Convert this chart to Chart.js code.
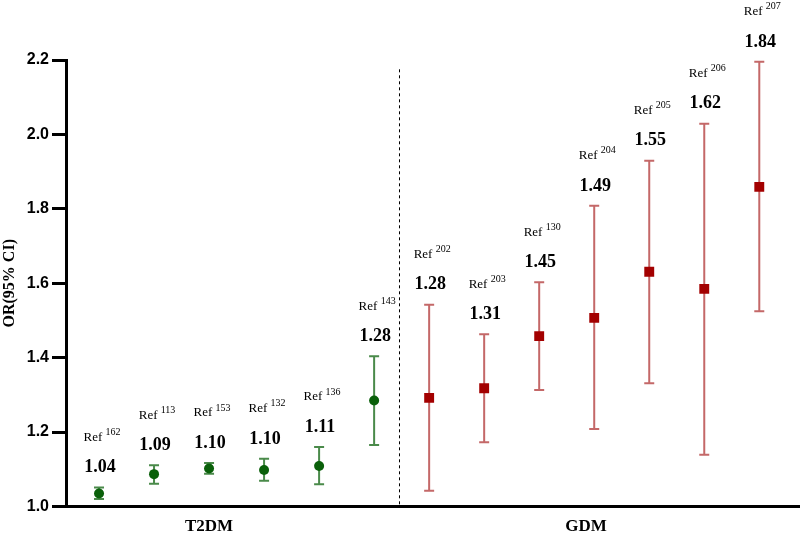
<!DOCTYPE html>
<html>
<head>
<meta charset="utf-8">
<script src="https://cdn.jsdelivr.net/npm/chart.js@4"></script>
<style>
  html, body { margin: 0; padding: 0; background: #fff; overflow: hidden; }
  canvas { display: block; }
</style>
</head>
<body>
<canvas id="chart" width="800" height="536"></canvas>
<script>
// data
const groupNames = ["T2DM", "GDM"];
const refIds = ["162", "113", "153", "132", "136", "143", "202", "203", "130", "204", "205", "206", "207"];
const orLabels = ["1.04", "1.09", "1.10", "1.10", "1.11", "1.28", "1.28", "1.31", "1.45", "1.49", "1.55", "1.62", "1.84"];

const t2dmOR   = [1.035, 1.087, 1.102, 1.098, 1.109, 1.285];
const t2dmLow  = [1.020, 1.061, 1.088, 1.069, 1.060, 1.165];
const t2dmHigh = [1.051, 1.111, 1.117, 1.128, 1.160, 1.404];

const gdmOR   = [1.292, 1.318, 1.458, 1.507, 1.631, 1.585, 1.859];
const gdmLow  = [1.042, 1.173, 1.313, 1.208, 1.331, 1.139, 1.525];
const gdmHigh = [1.542, 1.463, 1.603, 1.808, 1.929, 2.029, 2.195];

const yTicks = [1.0, 1.2, 1.4, 1.6, 1.8, 2.0, 2.2];

const GREEN = "#0a600a", GREEN_BAR = "#4a8a4a";
const RED = "#a30000", RED_BAR = "#c46868";

// build points (x = study position)
const t2dmPts = t2dmOR.map((v, i) => ({ x: i + 1, y: v, lo: t2dmLow[i], hi: t2dmHigh[i] }));
const gdmPts = gdmOR.map((v, i) => ({ x: t2dmOR.length + i + 1, y: v, lo: gdmLow[i], hi: gdmHigh[i] }));

const errorBars = {
  id: "errorBars",
  beforeDatasetsDraw(chart) {
    const { ctx, scales: { x, y } } = chart;
    ctx.save();
    // dashed divider between groups
    ctx.strokeStyle = "#000";
    ctx.lineWidth = 1;
    ctx.setLineDash([3, 3]);
    const dx = Math.round(x.getPixelForValue(6.45)) + 0.5;
    ctx.beginPath();
    ctx.moveTo(dx, y.getPixelForValue(2.175));
    ctx.lineTo(dx, y.getPixelForValue(1.0));
    ctx.stroke();
    ctx.setLineDash([]);

    chart.data.datasets.forEach((ds) => {
      ctx.strokeStyle = ds.barColor;
      ctx.lineWidth = 2;
      ds.data.forEach((p) => {
        const px = x.getPixelForValue(p.x);
        const top = y.getPixelForValue(p.hi);
        const bot = y.getPixelForValue(p.lo);
        ctx.beginPath();
        ctx.moveTo(px, top); ctx.lineTo(px, bot);
        ctx.moveTo(px - 5, top); ctx.lineTo(px + 5, top);
        ctx.moveTo(px - 5, bot); ctx.lineTo(px + 5, bot);
        ctx.stroke();
      });
    });
    ctx.restore();
  },
  afterDraw(chart) {
    const { ctx, scales: { x, y } } = chart;
    ctx.save();
    ctx.fillStyle = "#000";
    ctx.textBaseline = "middle";
    const all = [...t2dmPts, ...gdmPts];
    all.forEach((p, i) => {
      const px = x.getPixelForValue(p.x);
      const top = y.getPixelForValue(p.hi);
      const vy = top - 20;
      ctx.font = "bold 18px 'Liberation Serif'";
      ctx.textAlign = "center";
      ctx.fillText(orLabels[i], px + 1, vy);

      // "Ref" with superscript number
      const ry = vy - 30;
      ctx.font = "13px 'Liberation Serif'";
      const w1 = ctx.measureText("Ref ").width;
      ctx.font = "10px 'Liberation Serif'";
      const w2 = ctx.measureText(refIds[i]).width;
      const start = px + 3 - (w1 + w2) / 2;
      ctx.textAlign = "left";
      ctx.font = "13px 'Liberation Serif'";
      ctx.fillText("Ref ", start, ry);
      ctx.font = "10px 'Liberation Serif'";
      ctx.fillText(refIds[i], start + w1, ry - 5);
    });

    // group names under the axis
    ctx.font = "bold 17px 'Liberation Serif'";
    ctx.textAlign = "center";
    ctx.fillText(groupNames[0], x.getPixelForValue(3.0), 527);
    ctx.fillText(groupNames[1], x.getPixelForValue(9.85), 527);
    ctx.restore();
  }
};

new Chart(document.getElementById("chart"), {
  type: "scatter",
  data: {
    datasets: [
      {
        label: groupNames[0],
        data: t2dmPts,
        pointStyle: "circle",
        pointRadius: 5,
        backgroundColor: GREEN,
        borderColor: GREEN,
        borderWidth: 0,
        barColor: GREEN_BAR
      },
      {
        label: groupNames[1],
        data: gdmPts,
        pointStyle: "rect",
        pointRadius: 7,
        backgroundColor: RED,
        borderColor: RED,
        borderWidth: 0,
        barColor: RED_BAR
      }
    ]
  },
  options: {
    responsive: false,
    animation: false,
    layout: { autoPadding: false, padding: { top: 60, right: 0, bottom: 0, left: 0 } },
    plugins: { legend: { display: false }, tooltip: { enabled: false } },
    scales: {
      x: {
        type: "linear",
        min: 0.4,
        max: 13.74,
        ticks: { display: false },
        grid: { display: false },
        border: { display: true, color: "#000", width: 3 },
        afterFit: (s) => { s.height = 29.5; }
      },
      y: {
        min: 1.0,
        max: 2.2,
        afterBuildTicks: (s) => { s.ticks = yTicks.map((v) => ({ value: v })); },
        ticks: {
          color: "#000",
          padding: 3,
          font: { family: "'Liberation Sans'", size: 16, weight: "bold" },
          callback: (v) => v.toFixed(1)
        },
        grid: { display: true, drawOnChartArea: false, drawTicks: true, tickLength: 14, lineWidth: 3, color: "#000" },
        border: { display: true, color: "#000", width: 3 },
        title: {
          display: true,
          text: "OR(95% CI)",
          color: "#000",
          padding: { top: 0, bottom: 0 },
          font: { family: "'Liberation Serif'", size: 16, weight: "bold" }
        },
        afterFit: (s) => { s.width = 66; }
      }
    }
  },
  plugins: [errorBars]
});
</script>
</body>
</html>
